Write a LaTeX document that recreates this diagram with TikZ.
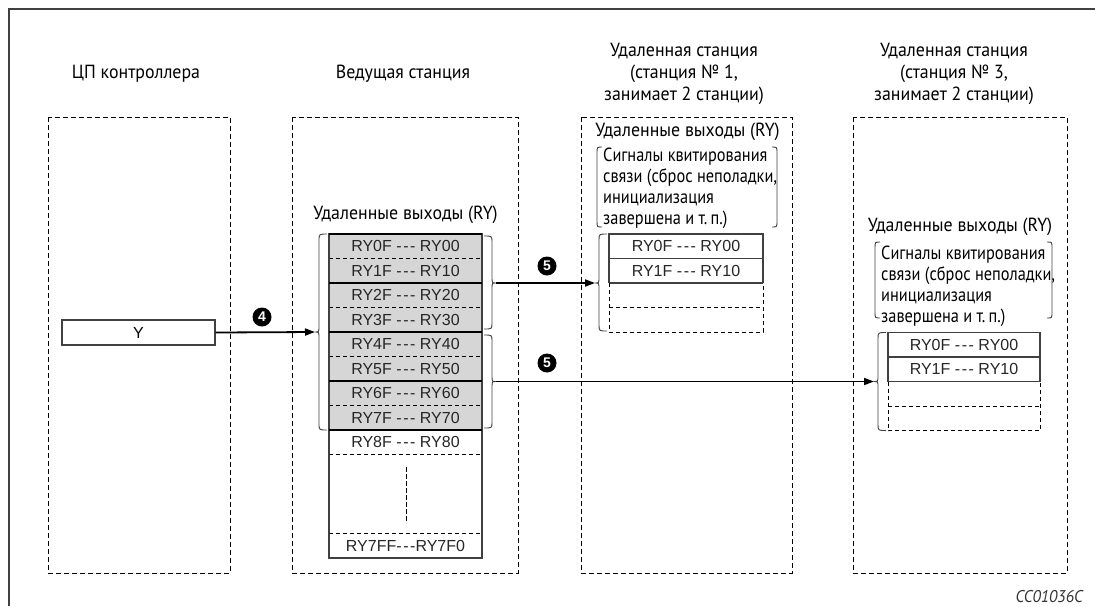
\documentclass[tikz,border=0pt]{standalone}
\usepackage{fontspec}
\setmainfont{Liberation Sans}
\newfontfamily\condf[FakeStretch=0.94]{PT Sans}
\newfontfamily\condg[FakeStretch=0.86]{PT Sans}
\usetikzlibrary{arrows.meta}
\newcommand\dsh{{-}\kern1.6pt{-}\kern1.6pt{-}}
\begin{document}
\begin{tikzpicture}[x=1pt,y=-1pt,
  colbox/.style={draw=black,dash pattern=on 5pt off 3pt,line width=0.9pt},
  hdr/.style={font=\condf\fontsize{19}{22}\selectfont,align=center,inner sep=0pt},
  sub/.style={font=\condg\fontsize{19}{21}\selectfont,align=left,inner sep=0pt},
  rylbl/.style={font=\fontsize{16}{16}\selectfont,inner sep=0pt,text=black!85},
  tline/.style={draw=black!75,line width=1.1pt},
  sep/.style={draw=black,line width=1.6pt},
  dsep/.style={draw=black,line width=0.8pt,dash pattern=on 4pt off 3pt},
  brc/.style={draw=black!75,line width=0.9pt},
  arr/.style={draw=black,line width=1.8pt,-{Triangle[length=10pt,width=7pt]}},
  num/.style={circle,fill=black,text=white,inner sep=0pt,minimum size=19pt,font=\bfseries\fontsize{14}{14}\selectfont}
]
\useasboundingbox (0,0) rectangle (1095,606);
% frame
\draw[draw=black!75,line width=1.5pt] (9,606) -- (9,9) -- (1095,9);
% column boxes
\draw[colbox] (48,117) rectangle (230,573);
\draw[colbox] (292,117) rectangle (518,573);
\draw[colbox] (581,117) rectangle (792,573);
\draw[colbox] (853,117) rectangle (1067,573);
% headers
\node[hdr] (h1) at (136,74) {ЦП контроллера};
\node[hdr] (h2) at (403,74) {Ведущая станция};
\node[hdr] (h3) at (684,74) {Удаленная станция\\(станция № 1,\\занимает 2 станции)};
\node[hdr] (h4) at (954,74) {Удаленная станция\\(станция № 3,\\занимает 2 станции)};
% CPU
\node[draw=black!75,line width=1.1pt,minimum width=153pt,minimum height=25pt,inner sep=0pt,font=\fontsize{16}{16}\selectfont] (Y) at (138.5,332.5) {Y};
% master station table
\node[hdr] (m0) at (405.5,215) {Удаленные выходы (RY)};
\fill[black!16] (329,234) rectangle (482,430);
\foreach \i/\a/\b in {0/0F/00,1/1F/10,2/2F/20,3/3F/30,4/4F/40,5/5F/50,6/6F/60,7/7F/70,8/8F/80}
  \node[rylbl] (r\i) at (405.5,{234+24.5*(\i+0.5)}) {RY\a\ \dsh\ RY\b};
\node[rylbl] (rlast) at (405.5,545.5) {RY7FF\dsh RY7F0};
\foreach \y in {258.5,307.5,356.5,405.5,454.5,533}
  \draw[dsep] (329,\y) -- (482,\y);
\draw[draw=black,line width=0.8pt,dash pattern=on 5pt off 2pt] (406,467) -- (406,523);
\draw[tline] (329,234) rectangle (482,558);
\foreach \y in {234,283,332,381,430}
  \draw[sep] (329,\y) -- (482,\y);
% braces master
\draw[brc] (327,234) .. controls (319,234) .. (319,241) -- (319,326) .. controls (319,332) .. (315,332) .. controls (319,332) .. (319,338) -- (319,423) .. controls (319,430) .. (327,430);
\coordinate (b4) at (315,332);
\draw[brc] (484,236) .. controls (492,236) .. (492,242) -- (492,277) .. controls (492,283) .. (496,283) .. controls (492,283) .. (492,289) -- (492,323) .. controls (492,329) .. (484,329);
\coordinate (o5a) at (496,283);
\draw[brc] (484,335) .. controls (492,335) .. (492,341) -- (492,375.5) .. controls (492,381.5) .. (496,381.5) .. controls (492,381.5) .. (492,387.5) -- (492,422) .. controls (492,428) .. (484,428);
\coordinate (o5b) at (496,381.5);
% remote station 1
\node[hdr] (s1h) at (687.5,132) {Удаленные выходы (RY)};
\node[sub,anchor=base west] (s1t) at (603,224) {Сигналы квитирования\\связи (сброс неполадки,\\инициализация\\завершена и т.\,п.)};
\draw[brc] (602,147) .. controls (597,147) .. (597,153) -- (597,221) .. controls (597,227) .. (602,227);
\draw[brc] (772,147) .. controls (777,147) .. (777,153) -- (777,221) .. controls (777,227) .. (772,227);
\node[rylbl] (s1r0) at (686,246.25) {RY0F \dsh\ RY00};
\node[rylbl] (s1r1) at (686,270.75) {RY1F \dsh\ RY10};
\draw[tline] (609,283) -- (609,234) -- (763,234) -- (763,283);
\draw[tline] (609,258.5) -- (763,258.5);
\draw[tline] (609,283) -- (763,283);
\draw[dsep] (609,283) -- (609,332) -- (763,332) -- (763,283);
\draw[dsep] (609,307.5) -- (763,307.5);
\draw[brc] (607,234) .. controls (599,234) .. (599,240) -- (599,277) .. controls (599,283) .. (595,283) .. controls (599,283) .. (599,289) -- (599,325) .. controls (599,331) .. (607,331);
\coordinate (i5a) at (595,283);
% remote station 3
\node[hdr] (s3h) at (960,227) {Удаленные выходы (RY)};
\node[sub,anchor=base west] (s3t) at (881,322) {Сигналы квитирования\\связи (сброс неполадки,\\инициализация\\завершена и т.\,п.)};
\draw[brc] (880,242) .. controls (875,242) .. (875,248) -- (875,312) .. controls (875,318) .. (880,318);
\draw[brc] (1047,242) .. controls (1052,242) .. (1052,248) -- (1052,312) .. controls (1052,318) .. (1047,318);
\node[rylbl] (s3r0) at (964,344.75) {RY0F \dsh\ RY00};
\node[rylbl] (s3r1) at (964,369.25) {RY1F \dsh\ RY10};
\draw[tline] (888,381.5) -- (888,332.5) -- (1040,332.5) -- (1040,381.5);
\draw[tline] (888,357) -- (1040,357);
\draw[tline] (888,381.5) -- (1040,381.5);
\draw[dsep] (888,381.5) -- (888,430.5) -- (1040,430.5) -- (1040,381.5);
\draw[dsep] (888,406) -- (1040,406);
\draw[brc] (886,332.5) .. controls (878,332.5) .. (878,338.5) -- (878,375.5) .. controls (878,381.5) .. (874,381.5) .. controls (878,381.5) .. (878,387.5) -- (878,424.5) .. controls (878,430.5) .. (886,430.5);
\coordinate (i5b) at (874,381.5);
% arrows
\draw[arr] (Y.east) -- (b4);
\draw[arr] (o5a) -- (i5a);
\draw[arr] (o5b) -- (i5b);
\node[num] (n4) at (262,317) {4};
\node[num] (n5a) at (547,266) {5};
\node[num] (n5b) at (547,363) {5};
% code
\node[anchor=base east,inner sep=0pt,text=black!80,font=\condf\itshape\fontsize{17}{17}\selectfont] (code) at (1083,602) {CC01036C};
\end{tikzpicture}
\end{document}
